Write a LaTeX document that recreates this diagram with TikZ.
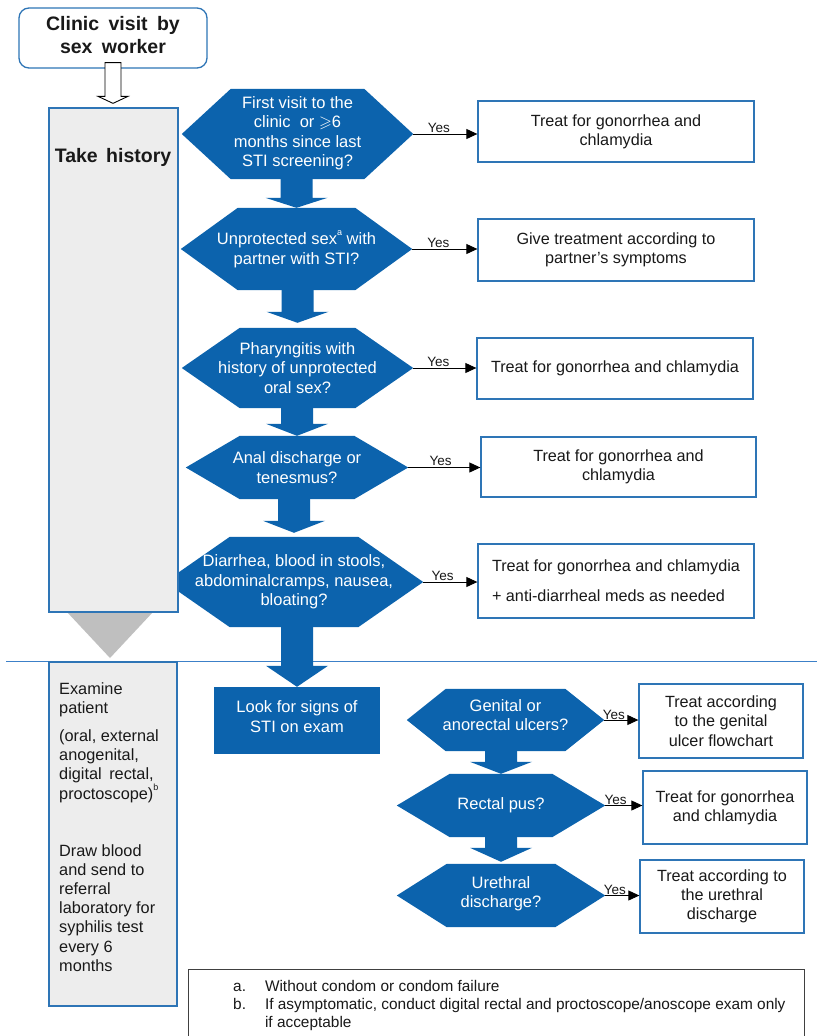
\documentclass[tikz,border=0pt]{standalone}
\usepackage{fontspec}
\setmainfont{Liberation Sans}
\usepackage{amssymb}
\usetikzlibrary{arrows.meta,calc}
\pgfdeclarelayer{paper}
\pgfdeclarelayer{background}
\pgfsetlayers{paper,background,main}

\definecolor{hexblue}{RGB}{12,99,173}
\definecolor{edgeblue}{RGB}{46,117,182}
\definecolor{panelgray}{RGB}{237,237,237}
\definecolor{trigray}{RGB}{191,191,191}
\definecolor{linegray}{RGB}{64,64,64}
\definecolor{sepblue}{RGB}{60,128,200}
\definecolor{textdark}{RGB}{25,25,25}

\newcommand{\fs}[2]{\fontsize{#1}{#2}\selectfont}
\newcommand{\supmark}[1]{\raisebox{0.55em}{\fontsize{9}{9}\selectfont #1}}

\tikzset{
  hexnode/.style={inner sep=0pt},
  hextext/.style={inner sep=0pt, text=white, align=center, font=\fs{16.5}{19.5}},
  treatbox/.style={draw=edgeblue, line width=1.3pt, fill=white, inner sep=0pt,
    align=center, font=\fs{16.2}{19.3}, text=textdark},
  panelbox/.style={draw=edgeblue, line width=1.3pt, fill=panelgray, inner sep=0pt},
  examtext/.style={anchor=north west, inner sep=0pt, align=left, font=\fs{16.3}{19.2}, text=textdark},
  yesarrow/.style={-{Triangle[length=11pt,width=10pt]}, line width=0.9pt, black},
  yeslabel/.style={font=\fs{13.5}{14}, inner sep=1pt, above, text=textdark},
}

% hexagon decision: name, cx, cy, width, height, inset, text offset (down), text
\newcommand{\hexdecision}[8]{%
  \node[hexnode, minimum width=#4pt, minimum height=#5pt] (#1) at (#2,#3) {};
  \node[hextext] (#1t) at ([yshift=-#7pt]#1.center) {#8};
  \begin{pgfonlayer}{background}
    \fill[hexblue] (#1.west) -- ([xshift=#6pt]#1.north west) -- ([xshift=-#6pt]#1.north east)
      -- (#1.east) -- ([xshift=-#6pt]#1.south east) -- ([xshift=#6pt]#1.south west) -- cycle;
  \end{pgfonlayer}}

% block arrow down: from, to, head length, gap above target
\newcommand{\blockdown}[4]{%
  \fill[hexblue] let \p1=(#1), \p2=(#2) in
    (\x2-16pt,\y1) -- (\x2+16pt,\y1) -- (\x2+16pt,\y2+#4pt+#3pt) -- (\x2+31pt,\y2+#4pt+#3pt)
    -- (\x2,\y2+#4pt) -- (\x2-31pt,\y2+#4pt+#3pt) -- (\x2-16pt,\y2+#4pt+#3pt) -- cycle;}

\begin{document}
\begin{tikzpicture}[x=1pt,y=-1pt]
\useasboundingbox (0,0) rectangle (817,1036);
\begin{pgfonlayer}{paper}
  \fill[white] (0,0) rectangle (817,1036);
\end{pgfonlayer}

% ---------- left column ----------
\node[draw=edgeblue, line width=1.3pt, fill=white, rounded corners=10pt, minimum width=188pt,
  minimum height=60pt, inner sep=0pt] (start) at (113,38) {};
\node[inner sep=0pt, align=center, font=\bfseries\fs{19.5}{22.5}, text=textdark]
  (starttext) at (113,35) {Clinic\hspace{4pt} visit\hspace{4pt} by\\sex\hspace{4pt} worker};

\fill[trigray] (67,612) -- (153,612) -- (110,658) -- cycle;
\node[panelbox, minimum width=129pt, minimum height=504pt] (take) at (113.5,360) {};
\node[inner sep=0pt, font=\bfseries\fs{19.5}{22}, text=textdark] (takelabel) at (113,157) {Take\hspace{3pt} history};

\draw[black, line width=0.9pt, fill=white] let \p1=(start.south), \p2=(take.north) in
  (\x1-8pt,\y1+6pt) -- (\x1+8pt,\y1+6pt) -- (\x1+8pt,\y2+11pt) -- (\x1+15pt,\y2+11pt)
  -- (\x1,\y2+4pt) -- (\x1-15pt,\y2+11pt) -- (\x1-8pt,\y2+11pt) -- cycle;

\draw[sepblue, line width=1pt] (6,661) -- (817,661);

\node[panelbox, minimum width=128pt, minimum height=344pt] (exam) at (113,834) {};
\node[examtext] (ex1) at (59,682) {Examine\\patient};
\node[examtext] (ex2) at (59,729.5) {(oral, external\\anogenital,\\digital\hspace{3pt} rectal,\\proctoscope)\supmark{b}};
\node[examtext] (ex3) at (59,844) {Draw blood\\and send to\\referral\\laboratory for\\syphilis test\\every 6\\months};

% ---------- decisions (history) ----------
\hexdecision{h1}{297.5}{134}{231}{90}{49}{-1}{First visit to the\\clinic\ \ or $\geqslant$6\\months since last\\STI screening?}
\hexdecision{h2}{296.5}{249}{231}{82}{57}{0}{Unprotected sex\supmark{a} with\\partner with STI?}
\hexdecision{h3}{297.5}{368}{231}{80}{58}{0}{Pharyngitis with\\history of unprotected\\oral sex?}
\hexdecision{h4}{297}{467.5}{222}{63}{54}{0}{Anal discharge or\\tenesmus?}
\hexdecision{h5}{294}{582}{258}{90}{65}{0}{Diarrhea, blood in stools,\\abdominalcramps, nausea,\\bloating?}

\node[fill=hexblue, minimum width=166pt, minimum height=67pt, inner sep=0pt] (look) at (297,720.5) {};
\node[inner sep=0pt, align=center, text=white, font=\fs{16.5}{19.3}] (looktext) at (297,716.5) {Look for signs of\\STI on exam};

\blockdown{h1.south}{h2.north}{10}{0}
\blockdown{h2.south}{h3.north}{11}{5}
\blockdown{h3.south}{h4.north}{12}{0}
\blockdown{h4.south}{h5.north}{12}{4}
\blockdown{h5.south}{look.north}{21}{0}

% ---------- decisions (exam) ----------
\hexdecision{h6}{505.5}{720}{197}{62}{39}{-5}{Genital or\\anorectal ulcers?}
\hexdecision{h7}{501}{805.5}{208}{63}{53}{0}{Rectal pus?}
\hexdecision{h8}{501}{895.5}{208}{63}{50}{-2}{Urethral\\discharge?}

\blockdown{h6.south}{h7.north}{12}{0}
\blockdown{h7.south}{h8.north}{14}{2}

% ---------- treatment boxes ----------
\node[treatbox, minimum width=276pt, minimum height=61pt] (b1) at (616,131.5) {Treat for gonorrhea and\\chlamydia};
\node[treatbox, minimum width=276pt, minimum height=62pt] (b2) at (616,250) {Give treatment according to\\partner’s symptoms};
\node[treatbox, minimum width=276pt, minimum height=61pt] (b3) at (615,368.5) {Treat for gonorrhea and chlamydia};
\node[treatbox, minimum width=275pt, minimum height=60pt] (b4) at (618.5,467) {Treat for gonorrhea and\\chlamydia};
\node[treatbox, minimum width=276pt, minimum height=74pt, align=left] (b5) at (616,581) {Treat for gonorrhea and chlamydia\\[10.5pt]+ anti-diarrheal meds as needed};
\node[treatbox, minimum width=164pt, minimum height=74pt] (b6) at (721,721) {Treat according\\to the genital\\ulcer flowchart};
\node[treatbox, minimum width=164pt, minimum height=73pt] (b7) at (725,807.5) {Treat for gonorrhea\\and chlamydia};
\node[treatbox, minimum width=164pt, minimum height=73pt] (b8) at (722,896.5) {Treat according to\\the urethral\\discharge};

% ---------- yes arrows ----------
\draw[yesarrow] (h1.east) -- (h1.east -| b1.west) node[yeslabel, pos=0.4] {Yes};
\draw[yesarrow] (h2.east) -- (h2.east -| b2.west) node[yeslabel, pos=0.4] {Yes};
\draw[yesarrow] (h3.east) -- (h3.east -| b3.west) node[yeslabel, pos=0.4] {Yes};
\draw[yesarrow] (h4.east) -- (h4.east -| b4.west) node[yeslabel, pos=0.45] {Yes};
\draw[yesarrow] (h5.east) -- (h5.east -| b5.west) node[yeslabel, pos=0.36] {Yes};
\draw[yesarrow] (h6.east) -- (h6.east -| b6.west) node[yeslabel, pos=0.28, inner sep=0.3pt] {Yes};
\draw[yesarrow] (h7.east) -- (h7.east -| b7.west) node[yeslabel, pos=0.28, inner sep=0.3pt] {Yes};
\draw[yesarrow] (h8.east) -- (h8.east -| b8.west) node[yeslabel, pos=0.28, inner sep=0.3pt] {Yes};

% ---------- footnotes ----------
\node[draw=linegray, line width=1pt, minimum width=616pt, minimum height=81pt, inner sep=0pt] (notes) at (496,1009.5) {};
\node[anchor=north west, inner sep=0pt, font=\fs{15.4}{18}, text=textdark] (fn) at (233,979)
  {\begin{tabular}{@{}l@{\hspace{19pt}}l@{}}
    a. & Without condom or condom failure\\
    b. & If asymptomatic, conduct digital rectal and proctoscope/anoscope exam only\\
       & if acceptable
  \end{tabular}};
\end{tikzpicture}
\end{document}
